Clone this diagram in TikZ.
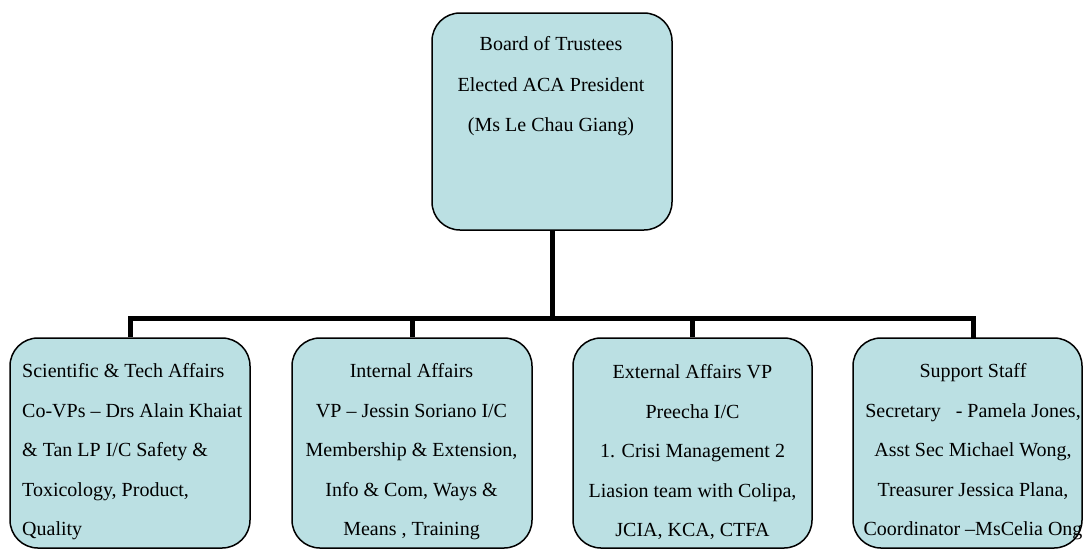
\documentclass[tikz,border=0pt]{standalone}
\usepackage{fontspec}
\setmainfont{Liberation Serif}
\definecolor{boxfill}{RGB}{187,224,227}
\begin{document}
\begin{tikzpicture}[x=1pt,y=-1pt,
  box/.style={draw=black, line width=1.5pt, fill=boxfill, rounded corners=28pt, rectangle, inner sep=0pt},
  txt/.style={inner sep=0pt, font=\fontsize{20}{39.5}\selectfont},
  conn/.style={draw=black, line width=5pt}]
\useasboundingbox (0,0) rectangle (1083,550);
% boxes
\node[box, minimum width=240pt, minimum height=217pt] (top) at (552,121.5) {};
\node[box, minimum width=240pt, minimum height=210pt] (b1) at (130,443) {};
\node[box, minimum width=240pt, minimum height=210pt] (b2) at (412,443) {};
\node[box, minimum width=239pt, minimum height=210pt] (b3) at (692.5,443) {};
\node[box, minimum width=229pt, minimum height=210pt] (b4) at (967.5,443) {};
% connectors
\coordinate (bus) at (552,318);
\coordinate (c4) at (973,338);
\draw[conn] (top.south) -- (bus);
\draw[conn, line cap=butt] (b1.north) |- (bus) -| (c4);
\draw[conn] (b2.north) -- (b2.north |- bus);
\draw[conn] (b3.north) -- (b3.north |- bus);
% texts
\node[txt, align=center, font=\fontsize{20}{40.5}\selectfont] (ttop) at (551,86.5) {Board of Trustees\\Elected ACA President\\(Ms Le Chau Giang)};
\node[txt, align=left, anchor=west] (t1) at (22,452) {Scientific \& Tech Affairs\\Co-VPs -- Drs Alain Khaiat\\\& Tan LP I/C Safety \&\\Toxicology, Product,\\Quality};
\node[txt, align=center] (t2) at (411.5,452) {Internal Affairs\\VP -- Jessin Soriano I/C\\Membership \& Extension,\\Info \& Com, Ways \&\\Means , Training};
\node[txt, align=center] (t3) at (692.5,452) {External Affairs VP\\Preecha I/C\\1. Crisi Management 2\\Liasion team with Colipa,\\JCIA, KCA, CTFA};
\node[txt, align=center] (t4) at (973,452) {Support Staff\\Secretary\ \ \ - Pamela Jones,\\Asst Sec Michael Wong,\\Treasurer Jessica Plana,\\Coordinator --MsCelia Ong};
\end{tikzpicture}
\end{document}
